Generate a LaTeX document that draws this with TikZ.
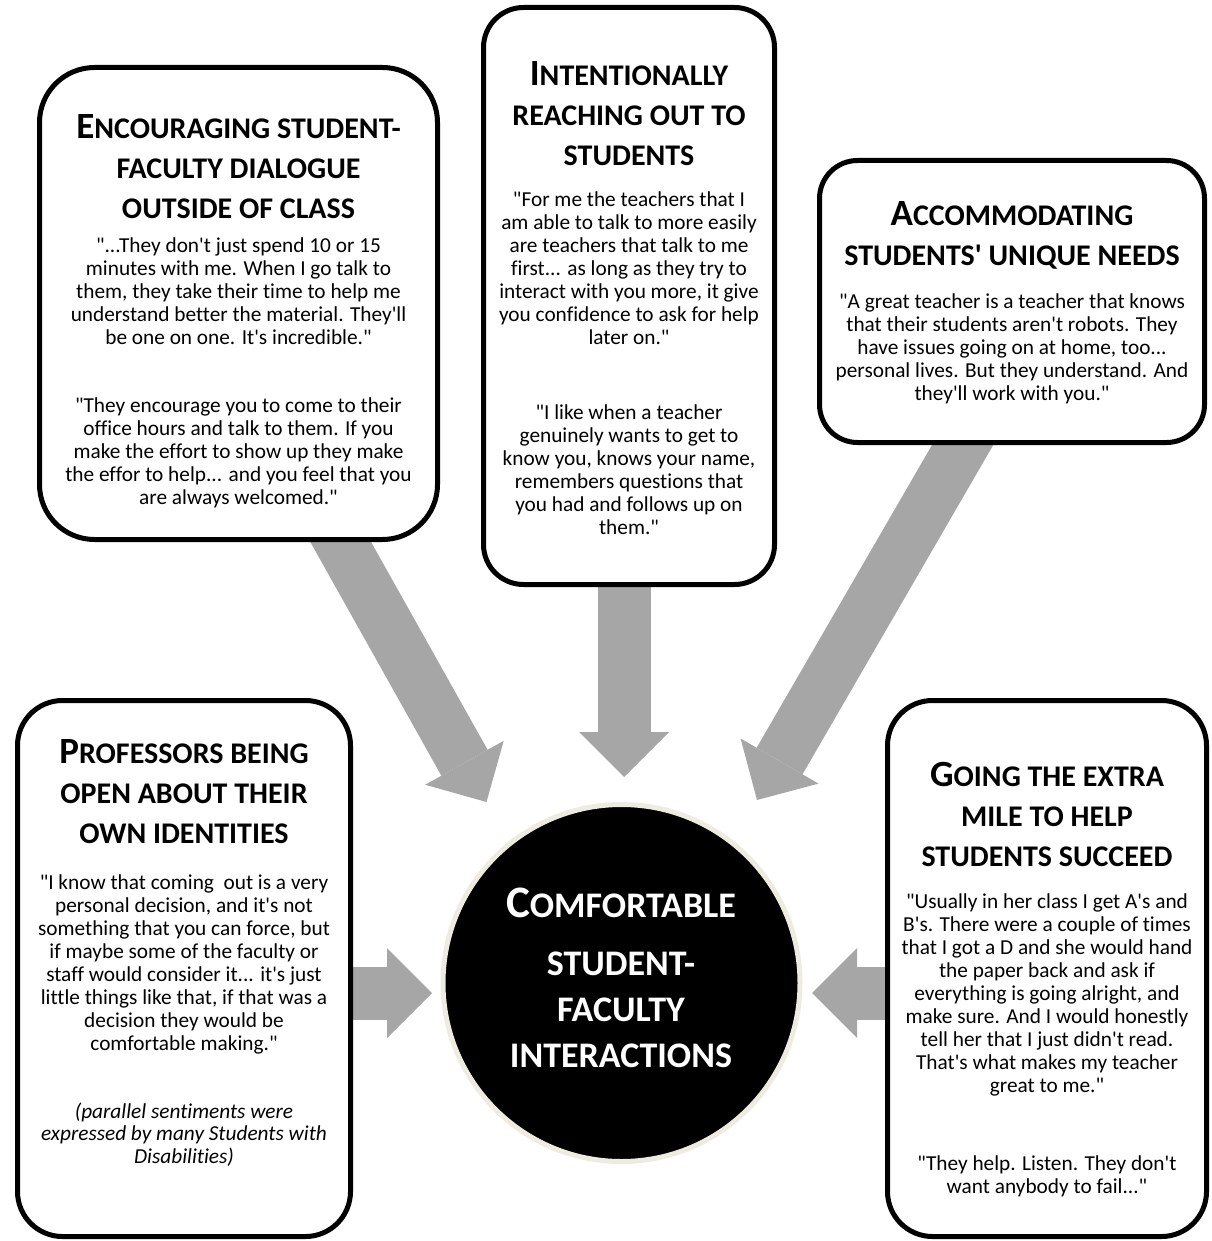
\documentclass[tikz,border=0pt]{standalone}
\usepackage{fontspec}
\setmainfont{Carlito}[Ligatures={TeXOff,CommonOff}]
\usetikzlibrary{arrows.meta,calc,backgrounds}
\definecolor{arrowgray}{HTML}{A6A6A6}
\definecolor{ringcol}{HTML}{EEECE1}
\newcommand{\bigc}[1]{{\fontsize{37}{40}\selectfont #1}}
\newcommand{\tstr}{\rule{0pt}{30pt}}
\newcommand{\bstr}{\rule{0pt}{18pt}}
\begin{document}
\begin{tikzpicture}[x=1pt,y=-1pt,
  box/.style={draw=black, line width=5pt, fill=white, rectangle, inner sep=0pt},
  ttl/.style={anchor=north, align=center, inner sep=0pt, font=\fontsize{30}{40}\selectfont\bfseries},
  body/.style={anchor=north, align=center, inner sep=0pt, font=\fontsize{21.3}{23}\selectfont},
  bigarrow/.style={draw=arrowgray, line width=53pt, line cap=butt,
    -{Triangle[length=45pt,width=90pt,line width=0pt]}}]
\useasboundingbox (0,0) rectangle (1211,1241);

% boxes
\node[box, minimum width=398pt, minimum height=472pt, rounded corners=55pt] (b1) at (238.5,303.5) {};
\node[box, minimum width=291pt, minimum height=577pt, rounded corners=40pt] (b2) at (629,296) {};
\node[box, minimum width=385pt, minimum height=282pt, rounded corners=38pt] (b3) at (1012,301.5) {};
\node[box, minimum width=333pt, minimum height=536pt, rounded corners=45pt] (b4) at (184,968.5) {};
\node[box, minimum width=319pt, minimum height=536pt, rounded corners=45pt] (b5) at (1047,968.5) {};

% central circle
\node[circle, fill=black, draw=ringcol, line width=5pt, minimum size=357pt, inner sep=0pt] (c) at (621.5,983) {};

% arrows under the boxes
\begin{scope}[on background layer]
\fill[white] (0,0) rectangle (1211,1241);
\draw[bigarrow] ($(b1.south)+(84.6,-31.4)$) -- ($(c)+(-135,-181)$);
\draw[bigarrow] ($(b2.south)+(-5,-25)$) -- ($(c)+(2.5,-206)$);
\draw[bigarrow] ($(b3.south)+(-32,-30)$) -- ($(c)+(135.5,-183)$);
\draw[bigarrow] ($(b4.east)+(-20,24.5)$) -- ($(c)+(-189.5,10)$);
\draw[bigarrow] ($(b5.west)+(20,24.5)$) -- ($(c)+(190.5,10)$);
\end{scope}

% box 1
\node[ttl] (t1) at (238.5,108) {\tstr\bigc{E}NCOURAGING STUDENT-\\FACULTY DIALOGUE\\OUTSIDE OF CLASS};
\node[body] (q11) at (238.5,234) {\bstr"...They don't just spend 10 or 15\\minutes with me. When I go talk to\\them, they take their time to help me\\understand better the material. They'll\\be one on one. It's incredible."};
\node[body] (q12) at (238.5,394) {\bstr"They encourage you to come to their\\office hours and talk to them. If you\\make the effort to show up they make\\the effor to help... and you feel that you\\are always welcomed."};

% box 2
\node[ttl] (t2) at (629,55) {\tstr\bigc{I}NTENTIONALLY\\REACHING OUT TO\\STUDENTS};
\node[body] (q21) at (629,188) {\bstr"For me the teachers that I\\am able to talk to more easily\\are teachers that talk to me\\first... as long as they try to\\interact with you more, it give\\you confidence to ask for help\\later on."};
\node[body] (q22) at (629,401) {\bstr"I like when a teacher\\genuinely wants to get to\\know you, knows your name,\\remembers questions that\\you had and follows up on\\them."};

% box 3
\node[ttl] (t3) at (1012,195) {\tstr\bigc{A}CCOMMODATING\\STUDENTS' UNIQUE NEEDS};
\node[body] (q31) at (1012,290) {\bstr"A great teacher is a teacher that knows\\that their students aren't robots. They\\have issues going on at home, too...\\personal lives. But they understand. And\\they'll work with you."};

% box 4
\node[ttl] (t4) at (184,733) {\tstr\bigc{P}ROFESSORS BEING\\OPEN ABOUT THEIR\\OWN IDENTITIES};
\node[body] (q41) at (184,871) {\bstr"I know that coming\ \ out is a very\\personal decision, and it's not\\something that you can force, but\\if maybe some of the faculty or\\staff would consider it... it's just\\little things like that, if that was a\\decision they would be\\comfortable making."};
\node[body, font=\fontsize{21.3}{22.5}\selectfont\itshape] (q42) at (184,1100) {\bstr(parallel sentiments were\\expressed by many Students with\\Disabilities)};

% box 5
\node[ttl] (t5) at (1047,756) {\tstr\bigc{G}OING THE EXTRA\\MILE TO HELP\\STUDENTS SUCCEED};
\node[body] (q51) at (1047,890) {\bstr"Usually in her class I get A's and\\B's. There were a couple of times\\that I got a D and she would hand\\the paper back and ask if\\everything is going alright, and\\make sure. And I would honestly\\tell her that I just didn't read.\\That's what makes my teacher\\great to me."};
\node[body] (q52) at (1047,1152) {\bstr"They help. Listen. They don't\\want anybody to fail..."};

% circle text
\node[anchor=north, align=center, inner sep=0pt, text=white, font=\fontsize{36}{46}\selectfont\bfseries] (ct) at (621,881)
  {\rule{0pt}{36pt}{\fontsize{45}{46}\selectfont C}OMFORTABLE\\[12pt]STUDENT-\\FACULTY\\INTERACTIONS};
\end{tikzpicture}
\end{document}
